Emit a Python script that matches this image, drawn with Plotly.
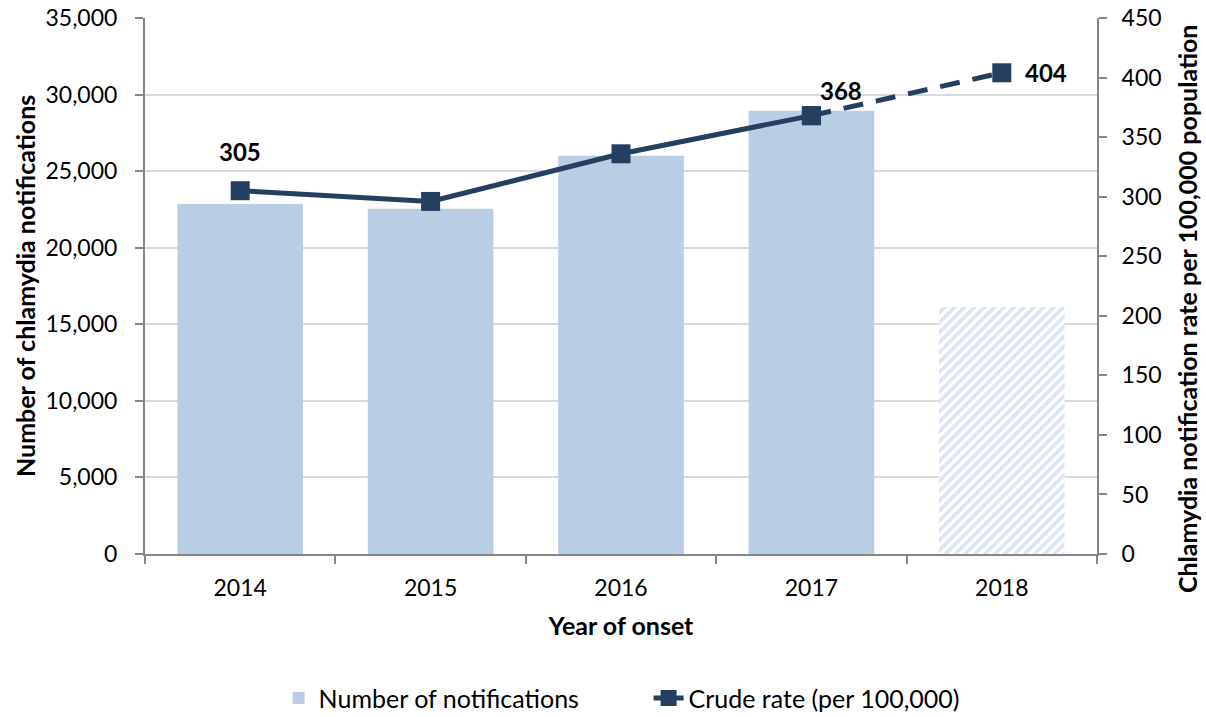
import plotly.graph_objects as go

# Chart data
years = ["2014", "2015", "2016", "2017", "2018"]
notifications = [22850, 22550, 26000, 28950, 16130]
crude_rate = [305, 296, 336, 368, 404]
rate_labels = ["305", "", "", "368", "404"]

bar_color = "#B9CDE5"
line_color = "#243F60"
grid_color = "#D9D9D9"
axis_color = "#868686"
font_family = "Lato, 'Open Sans', sans-serif"

fig = go.Figure()

# Bars: final year is partial, drawn hatched
fig.add_trace(go.Bar(
    x=years[:-1],
    y=notifications[:-1],
    name="Number of notifications",
    marker=dict(color=bar_color, line=dict(width=0)),
    width=0.66,
))
fig.add_trace(go.Bar(
    x=years[-1:],
    y=notifications[-1:],
    name="Number of notifications (partial)",
    marker=dict(
        color="white",
        line=dict(width=0),
        pattern=dict(shape="/", fgcolor=bar_color, bgcolor="white",
                     size=7, solidity=0.55, fillmode="overlay"),
    ),
    width=0.66,
    showlegend=False,
))

# Crude rate line: solid for complete years, dashed to the partial year
fig.add_trace(go.Scatter(
    x=years[-2:],
    y=crude_rate[-2:],
    yaxis="y2",
    mode="lines+markers",
    line=dict(color=line_color, width=5, dash="20px,13px"),
    marker=dict(symbol="square", size=19, color=line_color),
    showlegend=False,
))
fig.add_trace(go.Scatter(
    x=years[:-1],
    y=crude_rate[:-1],
    yaxis="y2",
    mode="lines+markers",
    name="Crude rate (per 100,000)",
    line=dict(color=line_color, width=5),
    marker=dict(symbol="square", size=19, color=line_color),
))

# Data labels (category index used as x so the axis stays categorical)
label_offsets = {0: (0, 39), 3: (30, 25), 4: (44, 0)}
for i, (val, lab) in enumerate(zip(crude_rate, rate_labels)):
    if not lab:
        continue
    dx, dy = label_offsets[i]
    fig.add_annotation(
        x=i, y=val, xref="x", yref="y2", text=f"<b>{lab}</b>", showarrow=False,
        xshift=dx, yshift=dy,
        font=dict(size=24, color="black", family=font_family),
    )

# Axis titles as annotations for exact placement
fig.add_annotation(
    x=0, y=0.5, xref="paper", yref="paper", xshift=-120,
    xanchor="center", yanchor="middle",
    text="<b>Number of chlamydia notifications</b>", textangle=-90,
    showarrow=False, font=dict(size=25, color="black"),
)
fig.add_annotation(
    x=1, y=0.457, xref="paper", yref="paper", xshift=90,
    xanchor="center", yanchor="middle",
    text="<b>Chlamydia notification rate per 100,000 population</b>", textangle=-90,
    showarrow=False, font=dict(size=25, color="black"),
)

axis_common = dict(
    showline=True,
    linecolor=axis_color,
    linewidth=2,
    ticks="outside",
    ticklen=8,
    tickcolor=axis_color,
    tickwidth=2,
    tickfont=dict(size=23),
    zeroline=False,
    automargin=False,
    ticklabeloverflow="allow",
)

fig.update_layout(
    width=1206,
    height=717,
    margin=dict(l=145, r=109, t=18, b=163, autoexpand=False),
    paper_bgcolor="white",
    plot_bgcolor="white",
    font=dict(family=font_family, size=23, color="black"),
    bargap=0.34,
    xaxis=dict(
        type="category",
        categoryorder="array",
        categoryarray=years,
        range=[-0.5, len(years) - 0.5],
        tickson="boundaries",
        tickangle=0,
        ticklabelstandoff=12,
        title=dict(text="<b>Year of onset</b>", font=dict(size=25), standoff=18),
        **axis_common,
    ),
    yaxis=dict(
        range=[0, 35000],
        tickvals=list(range(0, 35001, 5000)),
        tickformat=",",
        showgrid=True,
        gridcolor=grid_color,
        gridwidth=2,
        ticklabelstandoff=13,
        **axis_common,
    ),
    yaxis2=dict(
        overlaying="y",
        side="right",
        range=[0, 450],
        tickvals=list(range(0, 451, 50)),
        showgrid=False,
        ticklabelstandoff=10,
        **axis_common,
    ),
    legend=dict(
        orientation="h",
        x=0.529,
        xanchor="center",
        y=-0.269,
        yanchor="middle",
        font=dict(size=25),
        entrywidth=325,
        entrywidthmode="pixels",
        traceorder="normal",
    ),
)

# Drop the default page margin so the figure sits at the window's corner
fig.write_html(
    "out.html",
    config={"displayModeBar": False},
    post_script="document.body.style.margin='0';",
)
